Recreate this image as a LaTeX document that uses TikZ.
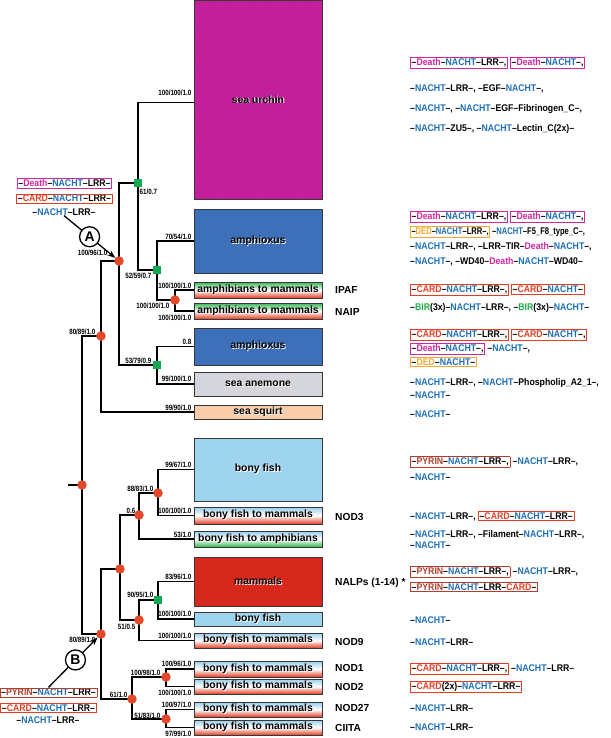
\documentclass[tikz,border=0pt]{standalone}
\usepackage{fontspec}
\usepackage{graphicx}
\setmainfont{Liberation Sans}
\newfontfamily\domfont[FakeStretch=0.9]{Liberation Sans}
\newfontfamily\lblfont[FakeStretch=0.82]{Liberation Sans}
\usetikzlibrary{arrows.meta,patterns.meta}
\pgfdeclarelayer{bg}
\pgfsetlayers{bg,main}
\definecolor{cNacht}{RGB}{28,110,182}
\definecolor{cDeath}{RGB}{206,40,160}
\definecolor{cCard}{RGB}{226,62,38}
\definecolor{cDed}{RGB}{245,168,50}
\definecolor{cPyrin}{RGB}{178,62,44}
\definecolor{cBir}{RGB}{30,170,75}
\definecolor{cDot}{RGB}{228,72,42}
\definecolor{cSq}{RGB}{20,168,80}
\definecolor{cBorder}{RGB}{55,55,55}
\definecolor{fUrchin}{RGB}{196,32,158}
\definecolor{fAmph}{RGB}{62,112,186}
\definecolor{fAnem}{RGB}{212,214,219}
\definecolor{fSquirt}{RGB}{250,205,170}
\definecolor{fFish}{RGB}{158,212,238}
\definecolor{fMam}{RGB}{218,42,30}
\definecolor{gRed}{RGB}{225,62,38}
\definecolor{gGreen}{RGB}{50,182,80}
\definecolor{gBlue}{RGB}{150,205,235}
\newcommand{\dN}{\textcolor{cNacht}{NACHT}}
\newcommand{\dDe}{\textcolor{cDeath}{Death}}
\newcommand{\dCa}{\textcolor{cCard}{CARD}}
\newcommand{\dDd}{\textcolor{cDed}{DED}}
\newcommand{\dPy}{\textcolor{cPyrin}{PYRIN}}
\newcommand{\dBi}{\textcolor{cBir}{BIR}}
\newcommand{\bx}[2]{{\fboxsep=0.8pt\fboxrule=0.7pt\fcolorbox{#1}{white}{#2}}}
\newcommand{\shd}[1]{\leavevmode\rlap{\kern0.9pt\raisebox{-0.9pt}{\color{white}#1}}#1}
\begin{document}
\begin{tikzpicture}[x=1pt,y=-1pt,
  tree/.style={line width=1.8pt, black},
  rdot/.style={circle, fill=cDot, minimum size=9.5pt, inner sep=0pt},
  gsq/.style={rectangle, fill=cSq, minimum size=8pt, inner sep=0pt},
  taxbox/.style={rectangle, draw=cBorder, line width=0.9pt, minimum width=128pt, inner sep=0pt, font=\bfseries\fontsize{10.4}{12}\selectfont},
  gradRed/.style={top color=#1, bottom color=gRed, middle color=white},
  gradGreen/.style={top color=#1, bottom color=gGreen, middle color=white},
  blbl/.style={font=\lblfont\bfseries\fontsize{7.6}{8}\selectfont, inner sep=0.5pt},
  dom/.style={anchor=west, inner sep=0pt, font=\domfont\bfseries\fontsize{9.7}{11}\selectfont},
  gname/.style={anchor=west, inner sep=0pt, font=\bfseries\fontsize{10.2}{12}\selectfont},
  circ/.style={circle, draw, line width=1.3pt, fill=white, inner sep=0pt, minimum size=20pt, font=\bfseries\fontsize{14}{14}\selectfont},
  arr/.style={line width=1.3pt, -{Stealth[length=8pt,width=6pt]}}
]
\useasboundingbox (0,0) rectangle (610,738);

% ---------- taxon boxes ----------
\node[taxbox, fill=fUrchin, postaction={pattern={Dots[distance=5pt, radius=0.45pt]}, pattern color=red!80!black}, minimum height=198.5pt] (bUrchin) at (258,99.75) {\shd{sea urchin}};
\node[taxbox, fill=fAmph, minimum height=64pt] (bAmph1) at (258,241) {\shd{amphioxus}};
\node[taxbox, gradRed=gGreen, minimum height=16pt] (bIPAF) at (258,290) {\shd{amphibians to mammals}};
\node[taxbox, gradRed=gGreen, minimum height=16pt] (bNAIP) at (258,311) {\shd{amphibians to mammals}};
\node[taxbox, fill=fAmph, minimum height=37pt] (bAmph2) at (258,346.5) {\shd{amphioxus}};
\node[taxbox, fill=fAnem, minimum height=24pt] (bAnem) at (258,384) {\shd{sea anemone}};
\node[taxbox, fill=fSquirt, minimum height=14pt] (bSquirt) at (258,412) {\shd{sea squirt}};
\node[taxbox, fill=fFish, minimum height=63pt] (bBF) at (258,469.5) {\shd{bony fish}};
\node[taxbox, gradRed=gBlue, minimum height=17pt] (bNOD3) at (258,515.5) {\shd{bony fish to mammals}};
\node[taxbox, gradGreen=gBlue, minimum height=16pt] (bBFA) at (258,539) {\shd{bony fish to amphibians}};
\node[taxbox, fill=fMam, postaction={pattern={Dots[distance=3pt, radius=0.3pt]}, pattern color=red!60!black}, minimum height=49pt] (bMam) at (258,581.5) {\shd{mammals}};
\node[taxbox, fill=fFish, minimum height=14pt] (bBF2) at (258,619) {\shd{bony fish}};
\node[taxbox, gradRed=gBlue, minimum height=15pt] (bNOD9) at (258,640.5) {\shd{bony fish to mammals}};
\node[taxbox, gradRed=gBlue, minimum height=16pt] (bNOD1) at (258,669) {\shd{bony fish to mammals}};
\node[taxbox, gradRed=gBlue, minimum height=15pt] (bNOD2) at (258,686.5) {\shd{bony fish to mammals}};
\node[taxbox, gradRed=gBlue, minimum height=15pt] (bNOD27) at (258,709.5) {\shd{bony fish to mammals}};
\node[taxbox, gradRed=gBlue, minimum height=15pt] (bCIITA) at (258,727.5) {\shd{bony fish to mammals}};

% ---------- tree nodes ----------
\coordinate (stub) at (68,485);
\node[rdot] (root) at (82,485) {};
\node[rdot] (nU) at (101,336) {};
\node[rdot] (nA) at (119,261) {};
\node[gsq] (g1) at (138,183) {};
\node[gsq] (g2) at (157,270) {};
\node[rdot] (r3) at (175,300) {};
\node[gsq] (g4) at (157,365) {};
\node[rdot] (nB) at (101,634) {};
\node[rdot] (l1) at (120,569) {};
\node[rdot] (l2) at (139,515) {};
\node[rdot] (l3) at (158,493) {};
\node[rdot] (l4) at (139,620) {};
\node[gsq] (l5) at (158,600) {};
\node[rdot] (l6) at (132,699) {};
\node[rdot] (l7) at (166,677) {};
\node[rdot] (l8) at (166,719) {};

\begin{pgfonlayer}{bg}
\draw[tree] (stub) -- (root.center);
\draw[tree] (root.center) |- (nU.center);
\draw[tree] (root.center) |- (nB.center);
\draw[tree] (nU.center) |- (nA.center);
\draw[tree] (nU.center) |- (bSquirt.west);
\draw[tree] (nA.center) |- (g1.center);
\draw[tree] (nA.center) |- (g4.center);
\draw[tree] (g1.center) |- ([yshift=-2.75pt]bUrchin.west);
\draw[tree] (g1.center) |- (g2.center);
\draw[tree] (g2.center) |- (bAmph1.west);
\draw[tree] (g2.center) |- (r3.center);
\draw[tree] (r3.center) |- (bIPAF.west);
\draw[tree] (r3.center) |- (bNAIP.west);
\draw[tree] (g4.center) |- (bAmph2.west);
\draw[tree] (g4.center) |- (bAnem.west);
\draw[tree] (nB.center) |- (l1.center);
\draw[tree] (nB.center) |- (l6.center);
\draw[tree] (l1.center) |- (l2.center);
\draw[tree] (l1.center) |- (l4.center);
\draw[tree] (l2.center) |- (l3.center);
\draw[tree] (l2.center) |- (bBFA.west);
\draw[tree] (l3.center) |- (bBF.west);
\draw[tree] (l3.center) |- (bNOD3.west);
\draw[tree] (l4.center) |- (l5.center);
\draw[tree] (l4.center) |- (bNOD9.west);
\draw[tree] (l5.center) |- (bMam.west);
\draw[tree] (l5.center) |- (bBF2.west);
\draw[tree] (l6.center) |- (l7.center);
\draw[tree] (l6.center) |- (l8.center);
\draw[tree] (l7.center) |- (bNOD1.west);
\draw[tree] (l7.center) |- (bNOD2.west);
\draw[tree] (l8.center) |- (bNOD27.west);
\draw[tree] (l8.center) |- (bCIITA.west);
\end{pgfonlayer}

% ---------- branch support labels ----------
\node[blbl, anchor=south east] (s1) at (192,96) {100/100/1.0};
\node[blbl, anchor=south east] (s2) at (192,240) {70/54/1.0};
\node[blbl, anchor=south east] (s3) at (192,289) {100/100/1.0};
\node[blbl, anchor=north east] (s4) at (192,314) {100/100/1.0};
\node[blbl, anchor=south east] (s5) at (192,345) {0.8};
\node[blbl, anchor=south east] (s6) at (192,382) {99/100/1.0};
\node[blbl, anchor=south east] (s7) at (192,411) {99/90/1.0};
\node[blbl, anchor=south east] (s8) at (192,468) {99/67/1.0};
\node[blbl, anchor=south east] (s9) at (192,514) {100/100/1.0};
\node[blbl, anchor=south east] (s10) at (192,538) {53/1.0};
\node[blbl, anchor=south east] (s11) at (192,580) {83/96/1.0};
\node[blbl, anchor=south east] (s12) at (192,617) {100/100/1.0};
\node[blbl, anchor=south east] (s13) at (192,639) {100/100/1.0};
\node[blbl, anchor=south east] (s14) at (192,667) {100/96/1.0};
\node[blbl, anchor=north east] (s15) at (192,689) {100/100/1.0};
\node[blbl, anchor=south east] (s16) at (192,708) {100/97/1.0};
\node[blbl, anchor=north east] (s17) at (192,730) {97/99/1.0};
% node labels
\node[blbl, anchor=north west] (k1) at (139,188) {61/0.7};
\node[blbl, anchor=north east] (k2) at (152,272) {52/59/0.7};
\node[blbl, anchor=east] (k3) at (108,253) {100/96/1.0};
\node[blbl, anchor=south east] (k4) at (96,335) {80/89/1.0};
\node[blbl, anchor=north east] (k5) at (170,302) {100/100/1.0};
\node[blbl, anchor=south east] (k6) at (152,364) {53/79/0.9};
\node[blbl, anchor=north east] (k7) at (96,636) {80/89/1.0};
\node[blbl, anchor=south east] (k8) at (154,492) {88/83/1.0};
\node[blbl, anchor=south east] (k9) at (136,514) {0.6};
\node[blbl, anchor=south east] (k10) at (154,598) {90/95/1.0};
\node[blbl, anchor=north east] (k11) at (136,623) {51/0.5};
\node[blbl, anchor=south east] (k12) at (128,698) {61/1.0};
\node[blbl, anchor=south east] (k13) at (161,676) {100/98/1.0};
\node[blbl, anchor=south east] (k14) at (161,719) {51/83/1.0};

% ---------- gene names ----------
\node[gname] (mIPAF) at (335,290) {IPAF};
\node[gname] (mNAIP) at (335,312) {NAIP};
\node[gname] (mNOD3) at (335,517) {NOD3};
\node[gname] (mNALP) at (335,583) {NALPs (1-14) *};
\node[gname] (mNOD9) at (335,642) {NOD9};
\node[gname] (mNOD1) at (335,668) {NOD1};
\node[gname] (mNOD2) at (335,687) {NOD2};
\node[gname] (mNOD27) at (335,708) {NOD27};
\node[gname] (mCIITA) at (335,728) {CIITA};

% ---------- domain architectures ----------
\node[dom] (u1) at (410,63) {\bx{cDeath}{–\dDe–\dN–LRR–,} \bx{cDeath}{–\dDe–\dN–,}};
\node[dom] (u2) at (410,89) {–\dN–LRR–, –EGF–\dN–,};
\node[dom] (u3) at (410,109) {–\dN–, –\dN–EGF–Fibrinogen\_C–,};
\node[dom] (u4) at (410,129) {–\dN–ZU5–, –\dN–Lectin\_C(2x)–};
\node[dom] (a1) at (410,217) {\bx{cDeath}{–\dDe–\dN–LRR–,} \bx{cDeath}{–\dDe–\dN–,}};
\node[dom] (a2) at (410,232) {\scalebox{0.87}[1]{\bx{cDed}{–\dDd–\dN–LRR–,} –\dN–F5\_F8\_type\_C–,}};
\node[dom] (a3) at (410,247) {–\dN–LRR–, –LRR–TIR–\dDe–\dN–,};
\node[dom] (a4) at (410,262) {–\dN–, –WD40–\dDe–\dN–WD40–};
\node[dom] (i1) at (410,290) {\bx{cCard}{–\dCa–\dN–LRR–,} \bx{cCard}{–\dCa–\dN–}};
\node[dom] (i2) at (410,308) {–\dBi(3x)–\dN–LRR–, –\dBi(3x)–\dN–};
\node[dom] (b1) at (410,335) {\bx{cCard}{–\dCa–\dN–LRR–,} \bx{cCard}{–\dCa–\dN–,}};
\node[dom] (b2) at (410,349) {\bx{cDeath}{–\dDe–\dN–,} –\dN–,};
\node[dom] (b3) at (410,362) {\bx{cDed}{–\dDd–\dN–}};
\node[dom] (c1) at (410,383) {–\dN–LRR–, –\dN–Phospholip\_A2\_1–,};
\node[dom] (c2) at (410,395) {–\dN–};
\node[dom] (sq) at (410,414) {–\dN–};
\node[dom] (d1) at (410,462) {\bx{cPyrin}{–\dPy–\dN–LRR–,} –\dN–LRR–,};
\node[dom] (d2) at (410,477) {–\dN–};
\node[dom] (n3) at (410,516) {–\dN–LRR–, \bx{cCard}{–\dCa–\dN–LRR–}};
\node[dom] (e1) at (410,535) {–\dN–LRR–, –Filament–\dN–LRR–,};
\node[dom] (e2) at (410,545) {–\dN–};
\node[dom] (f1) at (410,572) {\bx{cPyrin}{–\dPy–\dN–LRR–,} –\dN–LRR–,};
\node[dom] (f2) at (410,587) {\bx{cPyrin}{–\dPy–\dN–LRR–\dCa–}};
\node[dom] (h1) at (410,620) {–\dN–};
\node[dom] (n9) at (410,642) {–\dN–LRR–};
\node[dom] (n1) at (410,669) {\bx{cCard}{–\dCa–\dN–LRR–,} –\dN–LRR–};
\node[dom] (n2) at (410,687) {\bx{cCard}{–\dCa(2x)–\dN–LRR–}};
\node[dom] (n27) at (410,708) {–\dN–LRR–};
\node[dom] (nC) at (410,727) {–\dN–LRR–};

% ---------- annotations A and B ----------
\node[dom, anchor=center] (aA1) at (64.5,183.5) {\bx{cDeath}{–\dDe–\dN–LRR–}};
\node[dom, anchor=center] (aA2) at (64.5,198.5) {\bx{cCard}{–\dCa–\dN–LRR–}};
\node[dom, anchor=center] (aA3) at (64,212) {–\dN–LRR–};
\draw[arr] (aA3.south) -- node[circ, pos=0.5] (cA) {A} (nA);

\node[dom, anchor=center] (aB1) at (48.5,692.5) {\bx{cPyrin}{–\dPy–\dN–LRR–}};
\node[dom, anchor=center] (aB2) at (48.5,708) {\bx{cCard}{–\dCa–\dN–LRR–}};
\node[dom, anchor=center] (aB3) at (48,720.5) {–\dN–LRR–};
\draw[arr] (aB1.north) -- node[circ, pos=0.55] (cB) {B} (nB);
\end{tikzpicture}
\end{document}
